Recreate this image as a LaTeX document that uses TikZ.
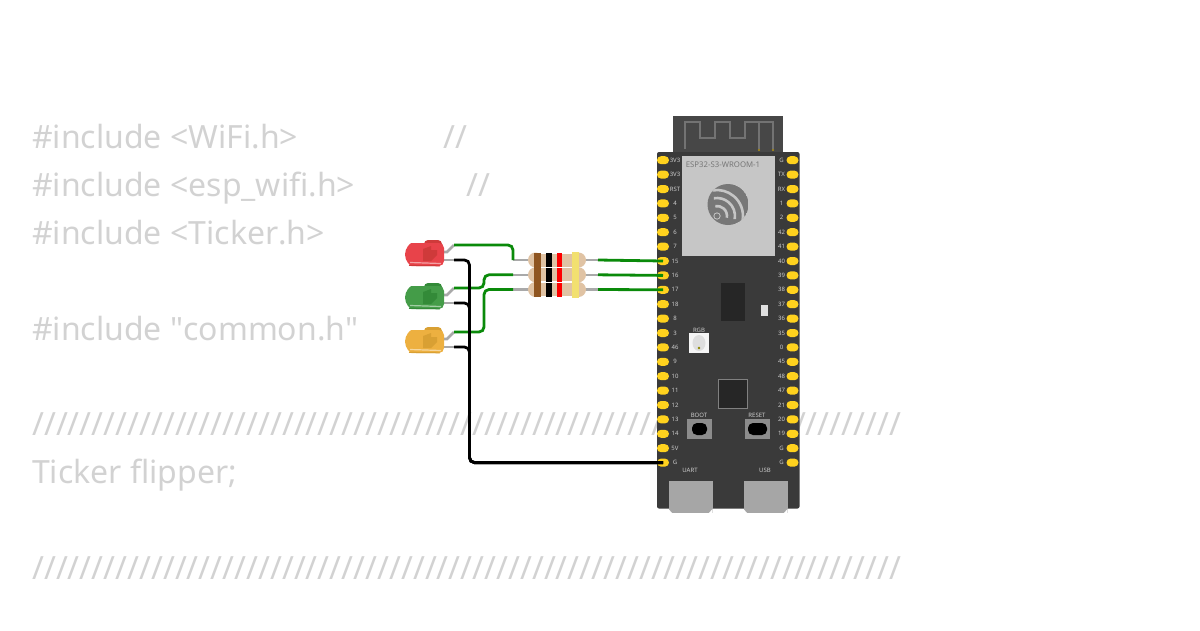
\documentclass[tikz,border=0pt]{standalone}
\usepackage{fontspec}
\setmainfont{Noto Sans}
\newfontfamily\codefont[Kerning=Off]{Noto Sans}
\usetikzlibrary{shapes.misc}
\definecolor{codegray}{HTML}{D2D2D2}
\definecolor{boardgray}{HTML}{3A3A3A}
\definecolor{pinyellow}{HTML}{FFD21E}
\definecolor{wiregreen}{HTML}{0A8A0A}
\definecolor{leadgray}{HTML}{A9A9A9}
\definecolor{rbody}{HTML}{E0C3A4}
\definecolor{logogray}{HTML}{777777}
\definecolor{modgray}{HTML}{C6C6C6}
\definecolor{bandbrown}{HTML}{8F5520}
\definecolor{bandyellow}{HTML}{F2E070}
\tikzset{
  code/.style = {anchor = base west, inner sep = 0, text = codegray, font = \codefont\fontsize{32}{32}\selectfont},
  pin/.style = {draw = none, fill = pinyellow, rounded rectangle, minimum width = 12, minimum height = 8, inner sep = 0},
  pinlabel/.style = {text = white!80!black, inner sep = 0, font = \fontsize{6}{6}\selectfont},
  ledbody/.style = {rounded rectangle, rounded rectangle right arc = none, rounded corners = 5, minimum width = 39, minimum height = 23, inner sep = 0},
  rbox/.style = {fill = rbody, minimum width = 46, minimum height = 13, inner sep = 0},
  lead/.style = {leadgray, line width = 2.6},
  green wire/.style = {wiregreen, line width = 2.8, rounded corners = 5},
  black wire/.style = {black, line width = 2.8, rounded corners = 5},
  usbport/.style = {fill = black!35, minimum width = 44, minimum height = 32, inner sep = 0},
  btn/.style = {fill = black!45, minimum width = 25, minimum height = 20, inner sep = 0}
}
\begin{document}
\begin{tikzpicture}[x = 1pt, y = -1pt]
\useasboundingbox (0, 0) rectangle (1200, 630);
% code behind the circuit
\node[code] (l1) at (32, 148) {\#include <WiFi.h>};
\node[code] (c1) at (443, 148) {//};
\node[code] (l2) at (32, 196) {\#include <esp\_wifi.h>};
\node[code] (c2) at (466, 196) {//};
\node[code] (l3) at (32, 244) {\#include <Ticker.h>};
\node[code] (l4) at (32, 340) {\#include "common.h"};
\node[code] (s1) at (32, 435) {/////////////////////////////////////////////////////////////////////////};
\node[code] (l5) at (32, 483) {Ticker flipper;};
\node[code] (s2) at (32, 579) {/////////////////////////////////////////////////////////////////////////};
% board
\fill[black!72] (673, 116) rectangle (783, 153);
\draw[black!55, line width = 2.4] (685, 149) -- (685, 122) -- (700, 122) -- (700, 138) -- (715, 138) -- (715, 122) -- (730, 122) -- (730, 138) -- (745, 138) -- (745, 122) -- (773, 122) -- (773, 149);
\draw[black!55, line width = 2.4] (759, 122) -- (759, 149);
\fill[pinyellow!70!black] (759, 150) circle (1.2);
\fill[pinyellow!70!black] (773, 150) circle (1.2);
\fill[boardgray, rounded corners = 2] (657, 152) rectangle (799.5, 508.5);
\fill[modgray] (682, 156) rectangle (775, 255.5);
\node[text = logogray, inner sep = 0, font = \fontsize{7.8}{7.8}\selectfont] (modname) at (723, 165) {ESP32-S3-WROOM-1};
\begin{scope}
\clip (728, 204.5) circle (20.5);
\fill[logogray] (728, 204.5) circle (20.5);
\foreach \r in {10, 18, 26} \draw[modgray, line width = 2.6] (717, 216) ++(10:\r) arc (10:-100:\r);
\end{scope}
\fill[modgray] (717, 216) circle (3.6);
\fill[logogray] (717, 216) circle (2.6);
% pins
\foreach \t [count = \i from 0] in {3V3, 3V3, RST, 4, 5, 6, 7, 15, 16, 17, 18, 8, 3, 46, 9, 10, 11, 12, 13, 14, 5V, G} {
  \node[pin] (p\i) at (663, 160.2 + 14.4 * \i) {};
  \node[pinlabel] (pl\i) at (675, 160.2 + 14.4 * \i) {\t};
}
\foreach \t [count = \i from 0] in {G, TX, RX, 1, 2, 42, 41, 40, 39, 38, 37, 36, 35, 0, 45, 48, 47, 21, 20, 19, G, G} {
  \node[pin] (q\i) at (792.5, 160.2 + 14.4 * \i) {};
  \node[pinlabel] (ql\i) at (781.5, 160.2 + 14.4 * \i) {\t};
}
% parts on the board
\fill[black!85] (721, 283) rectangle (745, 321);
\fill[black!12] (761, 305) rectangle (767.5, 315.5);
\node[fill = white!92!gray, minimum size = 20, inner sep = 0] (rgb) at (698.5, 343) {};
\fill[black!13] (699, 343) ellipse (6.5 and 8);
\fill[olive] (699, 348) circle (1.3);
\node[pinlabel] (rgbl) at (699, 330.8) {RGB};
\node[fill = black!85, draw = black!50, minimum size = 29, inner sep = 0] (chip) at (732.5, 393.5) {};
\node[btn] (boot) at (699, 429) {};
\node[btn] (reset) at (757.5, 429) {};
\fill[black, rounded corners = 5] (692, 423) rectangle (707, 435);
\fill[black, rounded corners = 5] (748, 423) rectangle (767, 435);
\node[pinlabel] (bootl) at (699, 415.7) {BOOT};
\node[pinlabel] (resetl) at (757, 415.7) {RESET};
\node[pinlabel] (uartl) at (690, 470) {UART};
\node[pinlabel] (usbl) at (765, 470) {USB};
\node[usbport] (uart) at (690.5, 497) {};
\node[usbport] (usb) at (765.5, 497) {};
\foreach \x in {668.5, 743.5} {
  \fill[white] (\x, 513.5) -- (\x, 509) -- (\x + 4, 513.5) -- cycle;
  \fill[white] (\x + 44, 513.5) -- (\x + 44, 509) -- (\x + 40, 513.5) -- cycle;
}
% resistors
\foreach \n/\y in {ra/260, rb/274.8, rc/289.5} {
  \draw[lead] (513, \y) coordinate (\n l) -- (530, \y);
  \draw[lead] (584, \y) -- (598, \y) coordinate (\n r);
  \node[rbox] (\n) at (557, \y) {};
  \fill[rbody] (535.5, \y) ellipse (7.5 and 7.5);
  \fill[rbody] (578.5, \y) ellipse (7.5 and 7.5);
  \fill[bandbrown] (534, \y - 7.5) rectangle (541, \y + 7.5);
  \fill[black] (546, \y - 7) rectangle (552, \y + 7);
  \fill[red] (557, \y - 7) rectangle (562, \y + 7);
  \fill[bandyellow] (572, \y - 8) rectangle (579, \y + 8);
}
% leds
\foreach \n/\y/\bc/\dc in {ledr/253/E8434A/CF3A3A, ledg/296/449C48/338A38, ledy/340/EDB040/D9A033} {
  \definecolor{bodyc}{HTML}{\bc}
  \definecolor{darkc}{HTML}{\dc}
  \draw[lead] (443, \y - 1) -- (447, \y - 1) -- (454, \y - 8) coordinate (\n a);
  \draw[lead] (443, \y + 7) -- (454, \y + 7) coordinate (\n k);
  \fill[darkc, rounded corners = 4] (424, \y + 3) rectangle (442, \y - 13);
  \node[ledbody, fill = bodyc] (\n) at (424.5, \y + 1.5) {};
  \fill[darkc] (423, \y - 4) -- (431, \y - 7) -- (431, \y - 3) -- (437, \y - 3) -- (437, \y + 2) -- (431, \y + 8) -- (423, \y + 8) -- cycle;
  \draw[white, opacity = .5, line width = 1.2] (410, \y + 9.5) -- (441, \y + 10.5);
  \draw[darkc, line width = 1] (409, \y + 12.4) -- (440, \y + 12.8);
}
% wires
\draw[green wire] (ledra) -- (513, 245) -- (ral);
\draw[green wire] (ledga) -- (484, 288) -- (484, 274.8) -- (rbl);
\draw[green wire] (ledya) -- (484, 332) -- (484, 289.5) -- (rcl);
\draw[green wire] (rar) -- (p7.center);
\draw[green wire] (rbr) -- (p8.center);
\draw[green wire] (rcr) -- (p9.center);
\draw[black wire] (ledrk) -- (469.5, 260) -- (469.5, 462.6) -- (p21.center);
\draw[black wire] (ledgk) -- (469.5, 303) -- (469.5, 462.6) -- (p21.center);
\draw[black wire] (ledyk) -- (469.5, 347) -- (469.5, 462.6) -- (p21.center);
\end{tikzpicture}
\end{document}
